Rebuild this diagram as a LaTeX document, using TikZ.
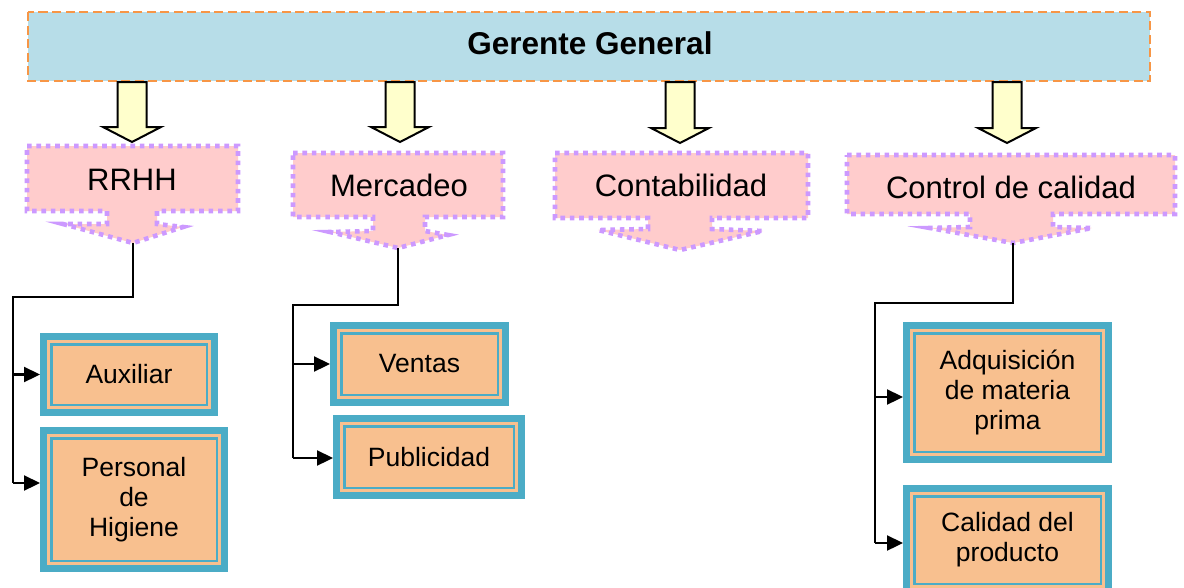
\documentclass[tikz,border=0pt]{standalone}
\usepackage{fontspec}
\setmainfont{Liberation Sans}
\usetikzlibrary{arrows.meta}
\definecolor{topblue}{HTML}{B7DDE8}
\definecolor{toporange}{HTML}{F79646}
\definecolor{ylw}{HTML}{FFFFCC}
\definecolor{pinkf}{HTML}{FFCCCC}
\definecolor{purp}{HTML}{CC99FF}
\definecolor{tealb}{HTML}{4BACC6}
\definecolor{peach}{HTML}{F8C08F}
\tikzset{
  topbox/.style={fill=topblue, draw=toporange, line width=2.6pt, dash pattern=on 9pt off 4.5pt},
  yarrow/.style={fill=ylw, draw=black, line width=2pt, line join=miter},
  dept/.style={fill=pinkf, draw=purp, line width=4.6pt, dash pattern=on 4.6pt off 4.8pt},
  deptlabel/.style={inner sep=0pt, font=\fontsize{31}{36}\selectfont},
  subbox/.style={draw=tealb, line width=2.5pt, fill=peach,
    preaction={draw=tealb, line width=22.5pt},
    preaction={draw=peach, line width=8.5pt},
    outer sep=11.25pt, inner sep=0pt, align=center,
    font=\fontsize{26.5}{30}\selectfont},
  conn/.style={draw=black, line width=2.3pt},
  arr/.style={conn, -{Triangle[length=16pt,width=15pt]}}
}
\begin{document}
\begin{tikzpicture}[x=1pt,y=-1pt]
\path[use as bounding box, clip] (0,0) rectangle (1184,587);
\fill[white] (0,0) rectangle (1184,587);

% top box
\path[topbox] (28,12) rectangle (1150,81);
\node[inner sep=0pt, font=\bfseries\fontsize{31.5}{36}\selectfont] (gg) at (590,43) {Gerente General};

% yellow block arrows
\foreach \c/\t in {132/142, 400/142, 680/143, 1007/143}{
  \path[yarrow] (\c-14.5,82) -- (\c+14.5,82) -- (\c+14.5,\t-15) -- (\c+29,\t-15)
     -- (\c,\t) -- (\c-29,\t-15) -- (\c-14.5,\t-15) -- cycle;
}

% department callouts
\path[dept] (27,146) -- (238,146) -- (238,211) -- (157,211) -- (157,224) -- (183,227)
  -- (133,243) -- (63,224) -- (107,224) -- (107,211) -- (27,211) -- cycle;
\node[deptlabel] (rrhh) at (132,180) {RRHH};
\coordinate (rrhhtip) at (133,243);

\path[dept] (293,153) -- (503,153) -- (503,217) -- (425,217) -- (425,231) -- (448,235)
  -- (398,248) -- (330,232) -- (373,231) -- (373,217) -- (293,217) -- cycle;
\node[deptlabel] (merc) at (399,185) {Mercadeo};
\coordinate (merctip) at (398,248);

\path[dept] (555,153) -- (808,153) -- (808,218) -- (712,218) -- (712,229) -- (763,231)
  -- (680,250) -- (598,230) -- (648,229) -- (648,218) -- (555,218) -- cycle;
\node[deptlabel] (cont) at (681,185) {Contabilidad};

\path[dept] (847,155) -- (1175,155) -- (1175,214) -- (1053,214) -- (1053,227) -- (1092,228)
  -- (1013,243) -- (930,228) -- (970,227) -- (970,214) -- (847,214) -- cycle;
\node[deptlabel] (ctrl) at (1011,187) {Control de calidad};
\coordinate (ctrltip) at (1013,243);

% sub boxes
\node[subbox, minimum width=155.5pt, minimum height=60.5pt] (aux) at (129,374.5) {Auxiliar};
\node[subbox, minimum width=165.5pt, minimum height=122.5pt] (pers) at (134,499.5) {Personal\\de\\Higiene};
\node[subbox, minimum width=156.5pt, minimum height=61.5pt] (vent) at (419.5,364) {Ventas};
\node[subbox, minimum width=169.5pt, minimum height=61.5pt] (publ) at (429,457) {Publicidad};
\node[subbox, minimum width=186.5pt, minimum height=118.5pt] (adq) at (1007.5,392.5) {Adquisición\\de materia\\prima};
\node[subbox, minimum width=186.5pt, minimum height=87.5pt] (cal) at (1007.5,540) {Calidad del\\producto};

% connectors RRHH
\coordinate (b1t) at (13,297);
\coordinate (b1b) at (13,483);
\draw[conn] (rrhhtip) |- (b1t) -- (b1b);
\draw[arr] (b1t |- aux.west) -- (aux.west);
\draw[arr] (b1b) -- (b1b -| pers.west);

% connectors Mercadeo
\coordinate (b2t) at (293,305);
\coordinate (b2b) at (293,458);
\draw[conn] (merctip) |- (b2t) -- (b2b);
\draw[arr] (b2t |- vent.west) -- (vent.west);
\draw[arr] (b2b) -- (b2b -| publ.west);

% connectors Control
\coordinate (b3t) at (875,303);
\coordinate (b3m) at (875,397);
\coordinate (b3b) at (875,543);
\draw[conn] (ctrltip) |- (b3t) -- (b3b);
\draw[arr] (b3m) -- (b3m -| adq.west);
\draw[arr] (b3b) -- (b3b -| cal.west);
\end{tikzpicture}
\end{document}
